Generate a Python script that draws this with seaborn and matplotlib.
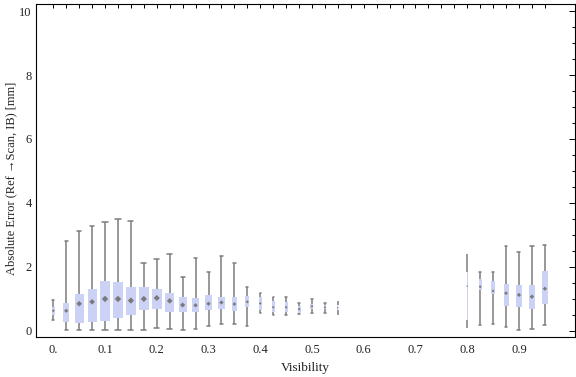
import numpy as np
import pandas as pd
import matplotlib
matplotlib.use("Agg")
import matplotlib.pyplot as plt
import seaborn as sns
from matplotlib.ticker import FixedLocator, MultipleLocator, FuncFormatter

# ---- data ----
visibility = [0.0, 0.025, 0.05, 0.075, 0.1, 0.125, 0.15, 0.175, 0.2, 0.225,
              0.25, 0.275, 0.3, 0.325, 0.35, 0.375, 0.4, 0.425, 0.45, 0.475,
              0.5, 0.525, 0.55, 0.8, 0.825, 0.85, 0.875, 0.9, 0.925, 0.95]
whisker_low = [0.34, 0.03, 0.03, 0.03, 0.03, 0.03, 0.03, 0.03, 0.09, 0.06,
               0.03, 0.06, 0.16, 0.22, 0.21, 0.14, 0.57, 0.51, 0.51, 0.52,
               0.55, 0.55, 0.50, 0.10, 0.17, 0.23, 0.11, 0.03, 0.05, 0.18]
q1 = [0.50, 0.29, 0.26, 0.29, 0.32, 0.39, 0.51, 0.64, 0.70, 0.60,
      0.60, 0.60, 0.64, 0.67, 0.63, 0.75, 0.66, 0.60, 0.59, 0.57,
      0.69, 0.67, 0.65, 0.34, 1.28, 1.15, 0.77, 0.76, 0.67, 0.85]
median = [0.63, 0.63, 0.85, 0.91, 1.00, 1.00, 0.95, 1.00, 1.03, 0.94,
          0.81, 0.80, 0.85, 0.89, 0.84, 0.91, 0.86, 0.74, 0.74, 0.68,
          0.77, 0.74, 0.72, 1.40, 1.38, 1.25, 1.18, 1.125, 1.07, 1.32]
q3 = [0.76, 0.86, 1.16, 1.31, 1.56, 1.53, 1.375, 1.375, 1.31, 1.19,
      1.06, 1.03, 1.12, 1.06, 1.05, 1.09, 1.05, 0.94, 0.91, 0.78,
      0.84, 0.81, 0.80, 1.85, 1.61, 1.55, 1.47, 1.43, 1.43, 1.87]
whisker_high = [0.97, 2.80, 3.11, 3.28, 3.40, 3.49, 3.43, 2.125, 2.24, 2.41,
                1.68, 2.28, 1.84, 2.34, 2.11, 1.36, 1.18, 1.07, 1.05, 0.86,
                0.99, 0.86, 0.94, 2.41, 1.84, 1.84, 2.66, 2.46, 2.66, 2.69]
# relative box widths (data units on the Visibility axis)
box_width = [0.0064, 0.0116, 0.0174, 0.0174, 0.0207, 0.0207, 0.0200, 0.0200, 0.0193, 0.0174,
             0.0155, 0.0122, 0.0122, 0.0122, 0.0097, 0.0077, 0.0058, 0.0052, 0.0058, 0.0058,
             0.0058, 0.0048, 0.0020, 0.0020, 0.0064, 0.0064, 0.0097, 0.0116, 0.0130, 0.0116]

x_label = "Visibility"
y_label = "Absolute Error (Ref \u2192Scan, IB) [mm]"

# ---- styling ----
sns.set_style("white")
serif = ["Liberation Serif", "DejaVu Serif"]
plt.rcParams["font.family"] = serif
plt.rcParams["font.size"] = 9

box_color = "#CCD2F6"
line_color = "#7C7C7C"
text_color = "#222222"

fig = plt.figure(figsize=(5.76, 3.77), dpi=100)
W, H = 576, 377
ax = fig.add_axes([36 / W, 1 - 337 / H, (575 - 36) / W, (337 - 4) / H])

for i, v in enumerate(visibility):
    vals = [whisker_low[i], q1[i], median[i], q3[i], whisker_high[i]]
    df = pd.DataFrame({"x": [v] * 5, "y": vals})
    sns.boxplot(data=df, x="x", y="y", native_scale=True, width=box_width[i],
                whis=(0, 100), color=box_color, linecolor=line_color,
                linewidth=1.1, showfliers=False, saturation=1,
                boxprops=dict(edgecolor="none", zorder=3),
                whiskerprops=dict(color=line_color, linewidth=1.1, zorder=2),
                capprops=dict(color=line_color, linewidth=1.1, zorder=2),
                medianprops=dict(linewidth=0), ax=ax)

# median diamonds
px_per_unit = 517.5
sizes = [(0.9 + 0.33 * w * px_per_unit) ** 2 * 0.55 for w in box_width]
sns.scatterplot(x=visibility, y=median, marker="D", s=sizes, color="#7A7A7A",
                edgecolor="none", linewidth=0, zorder=5, ax=ax, legend=False)

ax.set_xlim(-0.0334, 1.0083)
ax.set_ylim(-0.19, 10.22)

ax.xaxis.set_major_locator(FixedLocator([0.0, 0.1, 0.2, 0.3, 0.4, 0.5, 0.6, 0.7, 0.8, 0.9]))
ax.xaxis.set_minor_locator(FixedLocator([i * 0.025 for i in range(0, 39)]))
ax.xaxis.set_major_formatter(FuncFormatter(lambda v, p: "0." if abs(v) < 1e-9 else f"{v:.1f}"))
ax.yaxis.set_major_locator(FixedLocator([0, 2, 4, 6, 8, 10]))
ax.yaxis.set_minor_locator(MultipleLocator(0.5))
ax.yaxis.set_major_formatter(FuncFormatter(lambda v, p: f"{int(round(v))}"))

ax.tick_params(axis="both", which="both", direction="in", top=True, right=True,
               color="black", width=0.7, labelcolor=text_color, labelsize=9)
ax.tick_params(axis="x", which="major", length=3.0, pad=5)
ax.tick_params(axis="x", which="minor", length=3.0)
ax.tick_params(axis="y", which="major", length=4.0, pad=3)
ax.tick_params(axis="y", which="minor", length=2.5)

for s in ax.spines.values():
    s.set_visible(True)
    s.set_color("black")
    s.set_linewidth(0.8)

ax.set_xlabel(x_label, color=text_color, fontsize=9.5, labelpad=4)
ax.set_ylabel(y_label, color=text_color, fontsize=9, va="center")
ax.yaxis.set_label_coords(-0.045, 0.477)
ax.grid(False)

fig.savefig("out.png", dpi=100)
